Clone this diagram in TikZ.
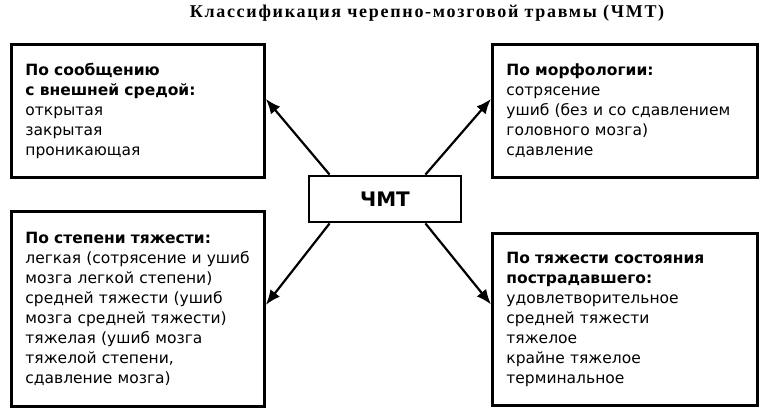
\documentclass[tikz,border=0pt]{standalone}
\usepackage{fontspec}
\setmainfont{DejaVu Sans}
\newfontfamily\titlefont[LetterSpace=9.5]{Liberation Serif}
\usetikzlibrary{positioning, arrows.meta}

\begin{document}
\begin{tikzpicture}[x=1pt,y=-1pt,
  infobox/.style={draw,line width=2.8pt,anchor=north west,align=left,inner xsep=14pt,
    font=\fontsize{15.5}{20}\selectfont},
  link/.style={line width=2.2pt,-{Latex[length=15pt,width=12pt]}}]
\useasboundingbox (0,0) rectangle (768,416);
\fill[white] (0,0) rectangle (768,416);
% title
\node[font=\titlefont\bfseries\fontsize{18}{20}\selectfont] (title) at (427,13) {Классификация черепно-мозговой травмы (ЧМТ)};
% centre
\node[draw,line width=2.8pt,minimum width=152pt,minimum height=46pt,font=\bfseries\fontsize{20}{22}\selectfont] (chmt) at (385,199) {ЧМТ};
% four groups
\node[infobox,minimum height=133pt,text width=225pt] (contact) at (10,43)
  {\textbf{По сообщению}\\ \textbf{с внешней средой:}\\ открытая\\ закрытая\\ проникающая};
\node[infobox,minimum height=133pt,text width=237pt] (morph) at (491,43)
  {\textbf{По морфологии:}\\ сотрясение\\ ушиб (без и со сдавлением\\ головного мозга)\\ сдавление};
\node[infobox,minimum height=195pt,text width=225pt] (degree) at (10,210)
  {\textbf{По степени тяжести:}\\ легкая (сотрясение и ушиб\\ мозга легкой степени)\\ средней тяжести (ушиб\\ мозга средней тяжести)\\ тяжелая (ушиб мозга\\ тяжелой степени,\\ сдавление мозга)};
\node[infobox,minimum height=172pt,text width=237pt] (state) at (491,232)
  {\textbf{По тяжести состояния}\\ \textbf{пострадавшего:}\\ удовлетворительное\\ средней тяжести\\ тяжелое\\ крайне тяжелое\\ терминальное};
% arrows
\draw[link] ([xshift=22pt]chmt.north west) -- ([yshift=12pt]contact.east);
\draw[link] ([xshift=-37pt]chmt.north east) -- ([yshift=12pt]morph.west);
\draw[link] ([xshift=22pt]chmt.south west) -- ([yshift=4pt]degree.east);
\draw[link] ([xshift=-37pt]chmt.south east) -- ([yshift=15pt]state.west);
\end{tikzpicture}
\end{document}
